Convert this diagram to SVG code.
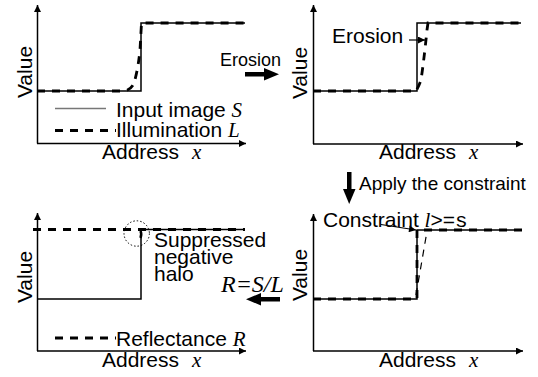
<svg xmlns="http://www.w3.org/2000/svg" width="538" height="377" viewBox="0 0 538 377">
<defs>
<marker id="ax" viewBox="0 0 10 10" refX="10" refY="5" markerWidth="8" markerHeight="7" markerUnits="userSpaceOnUse" orient="auto"><path d="M0,0 L10,5 L0,10 z" fill="#000"/></marker>
<marker id="sm" viewBox="0 0 10 10" refX="10" refY="5" markerWidth="9" markerHeight="7" markerUnits="userSpaceOnUse" orient="auto"><path d="M0,0 L10,5 L0,10 z" fill="#000"/></marker>
<style>
.t{font-family:"Liberation Sans",Arial,sans-serif;font-size:21px;fill:#000}
.i{font-family:"Liberation Serif","Times New Roman",serif;font-style:italic;font-size:21px;fill:#000}
.axis{fill:none;stroke:#000;stroke-width:1.5}
.s{fill:none;stroke:#000;stroke-width:1.5}
.d{fill:none;stroke:#000;stroke-width:2.8;stroke-dasharray:8 7}
.td{fill:none;stroke:#000;stroke-width:1.2;stroke-dasharray:7 6}
.big{fill:#000;stroke:none}
</style>
</defs>

<g id="panel1">
<line class="axis" x1="37.5" y1="143.5" x2="37.5" y2="5" marker-end="url(#ax)"/>
<line class="axis" x1="37" y1="143.5" x2="246" y2="143.5" marker-end="url(#ax)"/>
<path class="s" d="M37,91 H141 V23 H245"/>
<path class="d" d="M37,91 H124 Q131,90 134,83 Q138,70 140,50 L141.5,23 H245"/>
<line x1="55" y1="108.5" x2="106" y2="108.5" stroke="#777" stroke-width="1.5"/>
<line class="d" x1="55" y1="130.5" x2="116" y2="130.5"/>
<text class="t" x="116" y="117">Input image <tspan class="i">S</tspan></text>
<text class="t" x="116" y="137">Illumination <tspan class="i">L</tspan></text>
<text class="t" transform="translate(32,72) rotate(-90)" text-anchor="middle">Value</text>
<text class="t" x="102" y="159">Address</text>
<text class="i" x="192" y="159">x</text>
</g>

<g id="panel2">
<line class="axis" x1="313.5" y1="144" x2="313.5" y2="5" marker-end="url(#ax)"/>
<line class="axis" x1="313" y1="144" x2="523" y2="144" marker-end="url(#ax)"/>
<path class="s" d="M313,91 H417 V23 H521"/>
<path class="d" d="M313,91 H416 Q419,86 421,80 Q424,60 427,30 L428,23 H521"/>
<text class="t" x="332" y="43">Erosion</text>
<line x1="409" y1="40" x2="425" y2="40" stroke="#000" stroke-width="1.2" marker-end="url(#sm)"/>
<text class="t" transform="translate(307,73) rotate(-90)" text-anchor="middle">Value</text>
<text class="t" x="379" y="159">Address</text>
<text class="i" x="469" y="159">x</text>
</g>

<g id="panel3">
<line class="axis" x1="37.5" y1="351" x2="37.5" y2="213" marker-end="url(#ax)"/>
<line class="axis" x1="37" y1="351" x2="246" y2="351" marker-end="url(#ax)"/>
<path class="s" d="M37,299 H141 V229.5 H245"/>
<path class="d" d="M33,229.5 H245"/>
<path d="M140.5,231 Q142,234 140.5,238" fill="none" stroke="#000" stroke-width="2.5"/>
<circle cx="136.7" cy="233.5" r="12.7" fill="none" stroke="#000" stroke-width="1" stroke-dasharray="1.5 2"/>
<text class="t" x="154" y="246.5">Suppressed</text>
<text class="t" x="154" y="263.5">negative</text>
<text class="t" x="154" y="280.5">halo</text>
<line class="d" x1="55" y1="338" x2="116" y2="338"/>
<text class="t" x="116" y="346">Reflectance <tspan class="i">R</tspan></text>
<text class="t" transform="translate(32,277) rotate(-90)" text-anchor="middle">Value</text>
<text class="t" x="102" y="367">Address</text>
<text class="i" x="192" y="367">x</text>
</g>

<g id="panel4">
<line class="axis" x1="313.5" y1="351" x2="313.5" y2="214" marker-end="url(#ax)"/>
<line class="axis" x1="313" y1="351" x2="523" y2="351" marker-end="url(#ax)"/>
<path class="s" d="M313,299 H417 V230 H522"/>
<path class="d" d="M313,299 H417 V230 H522"/>
<line class="td" x1="416" y1="295" x2="426.7" y2="233"/>
<text class="t" x="323" y="227">Constraint <tspan class="i">l</tspan>&gt;=<tspan style="font-family:'Liberation Mono',monospace">s</tspan></text>
<line x1="381" y1="224.5" x2="416" y2="230" stroke="#000" stroke-width="1.2" marker-end="url(#sm)"/>
<text class="t" transform="translate(307,275) rotate(-90)" text-anchor="middle">Value</text>
<text class="t" x="379" y="367">Address</text>
<text class="i" x="469" y="367">x</text>
</g>

<g id="connectors">
<g id="erosion-step">
<rect class="big" x="245" y="72" width="21" height="4.5"/>
<path class="big" d="M264,68 L279,74.2 L264,80.5 z"/>
<text class="t" x="220" y="66" style="font-size:18px">Erosion</text>
</g>
<g id="constraint-step">
<rect class="big" x="347" y="172" width="4.5" height="19"/>
<path class="big" d="M343,189 L349.2,204 L355.5,189 z"/>
<text class="t" x="359" y="190" style="font-size:19px">Apply the constraint</text>
</g>
<g id="division-step">
<rect class="big" x="259" y="297" width="21" height="4.5"/>
<path class="big" d="M261,293 L246,299.2 L261,305.5 z"/>
<text class="i" x="221" y="292" style="font-size:24px">R=S/L</text>
</g>
</g>
</svg>
